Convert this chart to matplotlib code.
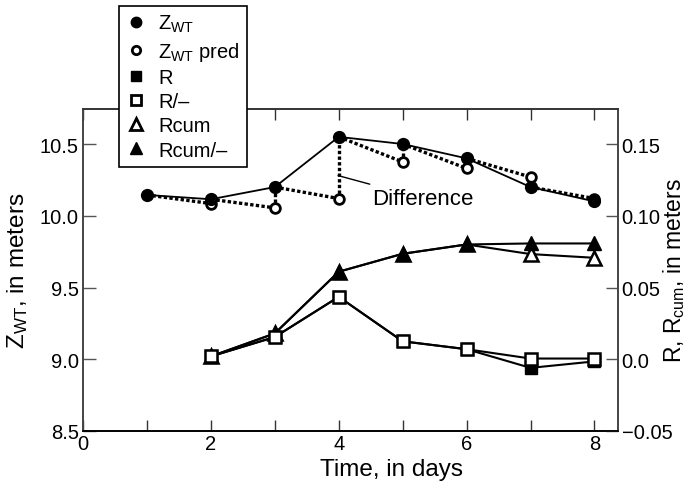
import matplotlib
matplotlib.use("Agg")
import matplotlib.pyplot as plt
from matplotlib.lines import Line2D

plt.rcParams['font.family'] = ['Liberation Sans', 'DejaVu Sans']
plt.rcParams['mathtext.fontset'] = 'custom'
plt.rcParams['mathtext.rm'] = 'Liberation Sans'
plt.rcParams['mathtext.it'] = 'Liberation Sans:italic'

# ---- data ----
days_z = [1, 2, 3, 4, 5, 6, 7, 8]
z_wt = [10.145, 10.115, 10.20, 10.55, 10.50, 10.40, 10.20, 10.10]
days_pred = [2, 3, 4, 5, 6, 7, 8]
z_pred = [10.085, 10.055, 10.12, 10.375, 10.33, 10.27, 10.12]

days_r = [2, 3, 4, 5, 6, 7, 8]
r_full = [0.002, 0.0155, 0.0435, 0.0125, 0.007, -0.006, -0.0015]
r_minus = [0.002, 0.0155, 0.0435, 0.0125, 0.007, 0.0005, 0.0005]
rcum_full = [0.002, 0.018, 0.061, 0.0735, 0.080, 0.0733, 0.0707]
rcum_minus = [0.002, 0.018, 0.061, 0.0735, 0.080, 0.0807, 0.0807]

x_major = [0, 2, 4, 6, 8]
x_minor = [1, 3, 5, 7]
yl_ticks = [8.5, 9.0, 9.5, 10.0, 10.5]
yr_ticks = [-0.05, 0.0, 0.05, 0.10, 0.15]
yr_labels = ['\u22120.05', '0.0', '0.05', '0.10', '0.15']

fig = plt.figure(figsize=(6.89, 4.89), dpi=100)
ax = fig.add_axes([83/689, 1-432/489, 534.5/689, 322/489])
ax2 = ax.twinx()

FS = 14.5
LFS = 17.5
dot = (0, (1.0, 0.7))

# Z_WT solid line
ax.plot(days_z, z_wt, color='black', lw=1.3, zorder=3)
# prediction dotted segments: previous observed -> prediction, then vertical difference
for i, d in enumerate(days_pred):
    j = days_z.index(d)
    ax.plot([days_z[j-1], d], [z_wt[j-1], z_pred[i]], color='black', lw=2.4,
            linestyle=dot, zorder=2)
    ax.plot([d, d], [z_pred[i], z_wt[j]], color='black', lw=2.4,
            linestyle=dot, zorder=2)
ax.plot(days_pred, z_pred, linestyle='none', marker='o', ms=7, mfc='white',
        mec='black', mew=2.0, zorder=4)
ax.plot(days_z, z_wt, linestyle='none', marker='o', ms=8.5, mfc='black',
        mec='black', zorder=5)

ax.annotate('Difference', xy=(3.99, 10.28), xytext=(4.52, 10.12),
            fontsize=16, va='center', ha='left',
            arrowprops=dict(arrowstyle='-', lw=1.0, color='black',
                            shrinkA=3, shrinkB=0))

# R series on right axis
ax2.plot(days_r, r_full, color='black', lw=1.5, marker='s', ms=8.5,
         mfc='black', mec='black', zorder=3)
ax2.plot(days_r, rcum_full, color='black', lw=1.5, marker='^', ms=9.5,
         mfc='white', mec='black', mew=1.8, zorder=3)
ax2.plot(days_r, rcum_minus, color='black', lw=1.5, marker='^', ms=10,
         mfc='black', mec='black', zorder=4)
ax2.plot(days_r, r_minus, color='black', lw=1.5, marker='s', ms=8.5,
         mfc='white', mec='black', mew=1.8, zorder=4)

ax.set_xlim(0, 8.36)
ax.set_ylim(8.5, 10.744)
ax2.set_ylim(-0.05, 0.1744)

ax.set_xticks(x_major)
ax.set_xticks(x_minor, minor=True)
ax.set_yticks(yl_ticks)
ax.set_yticklabels(['8.5', '9.0', '9.5', '10.0', '10.5'])
ax2.set_yticks(yr_ticks)
ax2.set_yticklabels(yr_labels)

ax.tick_params(axis='x', which='both', direction='in', top=True, length=8,
               width=1, labelsize=FS, pad=2, color='#333333')
ax.tick_params(axis='y', which='both', direction='in', length=9, width=1,
               labelsize=FS, pad=3, color='#555555')
ax2.tick_params(axis='y', direction='in', length=9, width=1, labelsize=FS,
                pad=3, color='#555555')

for a in (ax, ax2):
    for s in a.spines.values():
        s.set_linewidth(1.2)
    a.spines['left'].set_color('#444444')
    a.spines['right'].set_color('#444444')
    a.spines['top'].set_color('#333333')
    a.spines['bottom'].set_color('black')

ax.set_xlabel('Time, in days', fontsize=LFS)
ax.xaxis.set_label_coords((392-83)/534.5, -(459-432)/322)
ax.set_ylabel(r'Z$_{\mathrm{WT}}$, in meters', fontsize=LFS)
ax.yaxis.set_label_coords((30-83)/534.5, 0.5)
ax2.set_ylabel(r'R, R$_{\mathrm{cum}}$, in meters', fontsize=16.5)
ax2.yaxis.set_label_coords((661-83)/534.5, 0.5)

handles = [
    Line2D([], [], ls='none', marker='o', ms=7.5, mfc='black', mec='black'),
    Line2D([], [], ls='none', marker='o', ms=6, mfc='white', mec='black', mew=2),
    Line2D([], [], ls='none', marker='s', ms=7, mfc='black', mec='black'),
    Line2D([], [], ls='none', marker='s', ms=7, mfc='white', mec='black', mew=2),
    Line2D([], [], ls='none', marker='^', ms=8, mfc='white', mec='black', mew=2),
    Line2D([], [], ls='none', marker='^', ms=9, mfc='black', mec='black'),
]
labels = [r'Z$_{\mathrm{WT}}$', r'Z$_{\mathrm{WT}}$ pred', 'R', 'R/\u2013',
          'Rcum', 'Rcum/\u2013']
leg = ax2.legend(handles, labels, loc='upper left',
                 bbox_to_anchor=(119/689, 1-7/489), bbox_transform=fig.transFigure,
                 borderaxespad=0, fontsize=14.5, frameon=True, fancybox=False,
                 edgecolor='black', framealpha=1, handlelength=1.0,
                 handletextpad=0.6, labelspacing=0.26, borderpad=0.35)
leg.get_frame().set_linewidth(1.2)
leg.set_zorder(20)

fig.savefig('out.png', dpi=100)
